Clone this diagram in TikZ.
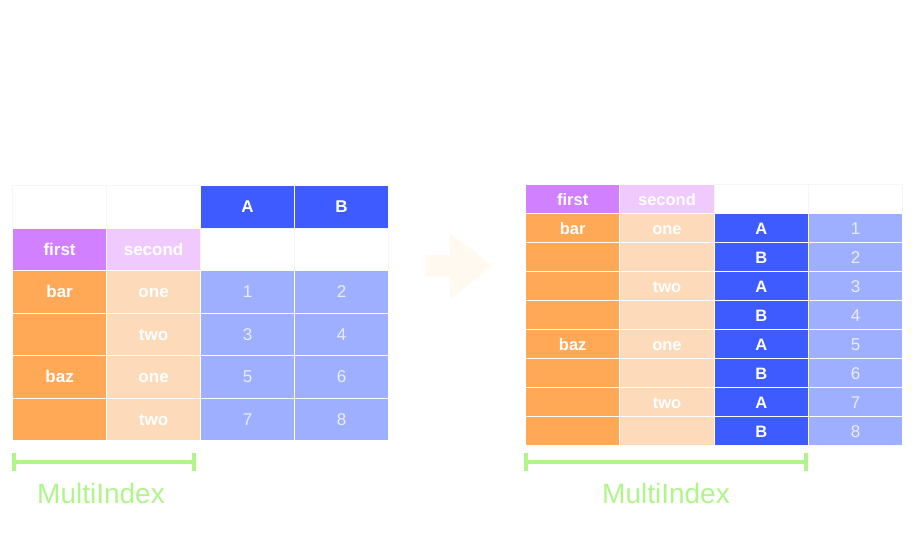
\documentclass[tikz,border=0pt]{standalone}
\usepackage{fontspec}
\setmainfont{Liberation Sans}
\definecolor{cOr}{RGB}{255,168,86}
\definecolor{cPe}{RGB}{253,218,185}
\definecolor{cPu}{RGB}{209,128,255}
\definecolor{cLi}{RGB}{240,202,255}
\definecolor{cBl}{RGB}{61,91,255}
\definecolor{cLb}{RGB}{158,175,255}
\definecolor{cGr}{RGB}{176,245,138}
\definecolor{cAr}{RGB}{255,249,239}
\definecolor{cFa}{RGB}{246,246,246}
\begin{document}
\begin{tikzpicture}[x=1pt,y=-1pt,
  cell/.style={rectangle, anchor=north west, draw=white, line width=1.2pt, inner sep=0pt,
    text=white, font=\fontsize{17}{20}\selectfont\bfseries, text height=12.2pt, text depth=0pt},
  lcell/.style={cell, minimum width=94pt, minimum height=42.5pt},
  rcell/.style={cell, minimum width=94.25pt, minimum height=29pt, font=\fontsize{16.5}{20}\selectfont\bfseries, text height=11.8pt},
  emptyc/.style={draw=cFa, fill=white},
  numc/.style={fill=cLb, text=white!78!cLb, font=\fontsize{17}{20}\selectfont},
  bracket/.style={draw=cGr, line width=4.5pt},
  tick/.style={draw=cGr, line width=4pt},
  mlabel/.style={anchor=base, text=cGr, font=\fontsize{28}{32}\selectfont, inner sep=0pt}]
\useasboundingbox (0,0) rectangle (917,557);
% ---------- left table ----------
\node[lcell, emptyc] (L00) at (12,185) {};
\node[lcell, emptyc] (L01) at (106,185) {};
\node[lcell, fill=cBl] (LA) at (200,185) {A};
\node[lcell, fill=cBl] (LB) at (294,185) {B};
\node[lcell, fill=cPu] (Lfirst) at (12,227.5) {first};
\node[lcell, fill=cLi] (Lsecond) at (106,227.5) {second};
\node[lcell, emptyc] (L12) at (200,227.5) {};
\node[lcell, emptyc] (L13) at (294,227.5) {};
\node[lcell, fill=cOr] (L20) at (12,270) {bar};
\node[lcell, fill=cPe] (L21) at (106,270) {one};
\node[lcell, numc] (L22) at (200,270) {1};
\node[lcell, numc] (L23) at (294,270) {2};
\node[lcell, fill=cOr] (L30) at (12,312.5) {};
\node[lcell, fill=cPe] (L31) at (106,312.5) {two};
\node[lcell, numc] (L32) at (200,312.5) {3};
\node[lcell, numc] (L33) at (294,312.5) {4};
\node[lcell, fill=cOr] (L40) at (12,355) {baz};
\node[lcell, fill=cPe] (L41) at (106,355) {one};
\node[lcell, numc] (L42) at (200,355) {5};
\node[lcell, numc] (L43) at (294,355) {6};
\node[lcell, fill=cOr] (L50) at (12,397.5) {};
\node[lcell, fill=cPe] (L51) at (106,397.5) {two};
\node[lcell, numc] (L52) at (200,397.5) {7};
\node[lcell, numc] (L53) at (294,397.5) {8};
% left bracket
\coordinate (lbl) at (13.5,462);
\coordinate (lbr) at (193.5,462);
\draw[bracket] (lbl) -- (lbr);
\draw[tick] ([yshift=-9pt]lbl) -- ([yshift=9pt]lbl);
\draw[tick] ([yshift=-9pt]lbr) -- ([yshift=9pt]lbr);
\node[mlabel] (Lmi) at (101,503.5) {MultiIndex};
% ---------- arrow ----------
\fill[cAr] (426,255) -- (450,255) -- (450,233.3) -- (492.7,265.8) -- (450,299) -- (450,276.7) -- (426,276.7) -- cycle;
% ---------- right table ----------
\node[rcell, fill=cPu] (Rfirst) at (525,184) {first};
\node[rcell, fill=cLi] (Rsecond) at (619.25,184) {second};
\node[rcell, emptyc] (R02) at (713.5,184) {};
\node[rcell, emptyc] (R03) at (807.75,184) {};
\node[rcell, fill=cOr] (R10) at (525,213) {bar};
\node[rcell, fill=cPe] (R11) at (619.25,213) {one};
\node[rcell, fill=cBl] (R12) at (713.5,213) {A};
\node[rcell, numc] (R13) at (807.75,213) {1};
\node[rcell, fill=cOr] (R20) at (525,242) {};
\node[rcell, fill=cPe] (R21) at (619.25,242) {};
\node[rcell, fill=cBl] (R22) at (713.5,242) {B};
\node[rcell, numc] (R23) at (807.75,242) {2};
\node[rcell, fill=cOr] (R30) at (525,271) {};
\node[rcell, fill=cPe] (R31) at (619.25,271) {two};
\node[rcell, fill=cBl] (R32) at (713.5,271) {A};
\node[rcell, numc] (R33) at (807.75,271) {3};
\node[rcell, fill=cOr] (R40) at (525,300) {};
\node[rcell, fill=cPe] (R41) at (619.25,300) {};
\node[rcell, fill=cBl] (R42) at (713.5,300) {B};
\node[rcell, numc] (R43) at (807.75,300) {4};
\node[rcell, fill=cOr] (R50) at (525,329) {baz};
\node[rcell, fill=cPe] (R51) at (619.25,329) {one};
\node[rcell, fill=cBl] (R52) at (713.5,329) {A};
\node[rcell, numc] (R53) at (807.75,329) {5};
\node[rcell, fill=cOr] (R60) at (525,358) {};
\node[rcell, fill=cPe] (R61) at (619.25,358) {};
\node[rcell, fill=cBl] (R62) at (713.5,358) {B};
\node[rcell, numc] (R63) at (807.75,358) {6};
\node[rcell, fill=cOr] (R70) at (525,387) {};
\node[rcell, fill=cPe] (R71) at (619.25,387) {two};
\node[rcell, fill=cBl] (R72) at (713.5,387) {A};
\node[rcell, numc] (R73) at (807.75,387) {7};
\node[rcell, fill=cOr] (R80) at (525,416) {};
\node[rcell, fill=cPe] (R81) at (619.25,416) {};
\node[rcell, fill=cBl] (R82) at (713.5,416) {B};
\node[rcell, numc] (R83) at (807.75,416) {8};
% right bracket
\coordinate (rbl) at (526,462);
\coordinate (rbr) at (806,462);
\draw[bracket] (rbl) -- (rbr);
\draw[tick] ([yshift=-9pt]rbl) -- ([yshift=9pt]rbl);
\draw[tick] ([yshift=-9pt]rbr) -- ([yshift=9pt]rbr);
\node[mlabel] (Rmi) at (666,503.5) {MultiIndex};
\end{tikzpicture}
\end{document}
